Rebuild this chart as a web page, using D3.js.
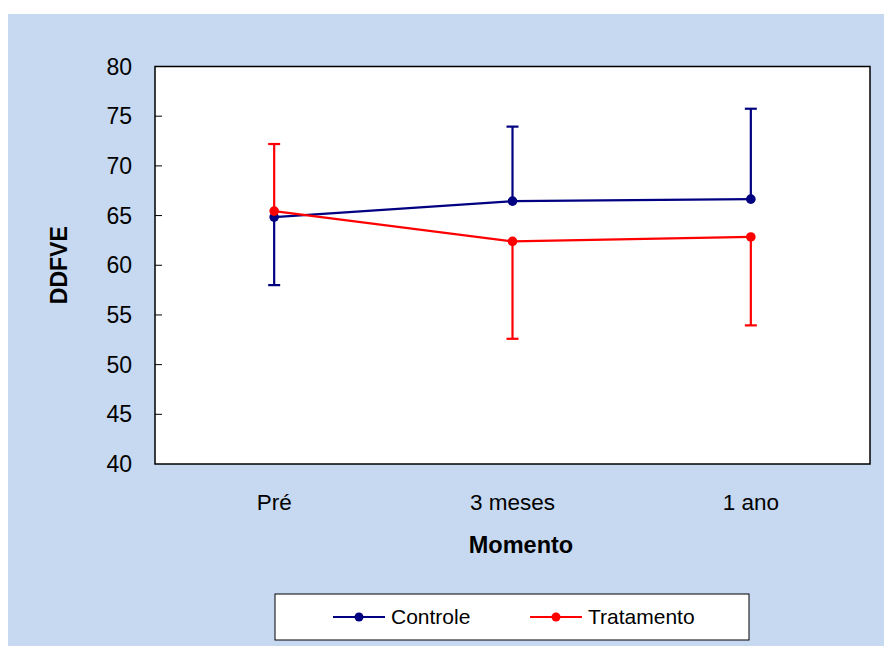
<!DOCTYPE html>
<html>
<head>
<meta charset="utf-8">
<script src="https://cdn.jsdelivr.net/npm/d3@7"></script>
<style>
  body { margin: 0; background: #fff; }
  svg { display: block; font-family: "Liberation Sans", Arial, sans-serif; }
</style>
</head>
<body>
<div id="chart"></div>
<script>
var width = 884;
var height = 646;

var categories = ["Pré", "3 meses", "1 ano"];
var yTicks = [40, 45, 50, 55, 60, 65, 70, 75, 80];
var controleMean = [64.85, 66.45, 66.65];
var controleSd = [6.85, 7.5, 9.1];
var controleDir = [-1, 1, 1];
var tratamentoMean = [65.45, 62.4, 62.85];
var tratamentoSd = [6.75, 9.8, 8.9];
var tratamentoDir = [1, -1, -1];

var series = [
  { name: "Controle", color: "#000080", mean: controleMean, sd: controleSd, dir: controleDir },
  { name: "Tratamento", color: "#ff0000", mean: tratamentoMean, sd: tratamentoSd, dir: tratamentoDir }
];

var plot = { left: 155, top: 66.5, right: 870, bottom: 464 };

const svg = d3.select("#chart")
  .append("svg")
  .attr("width", width)
  .attr("height", height);

// background panel
svg.append("rect")
  .attr("x", 8).attr("y", 14)
  .attr("width", width - 8).attr("height", height - 14)
  .attr("fill", "#c6d9f0");

svg.append("rect")
  .attr("x", plot.left).attr("y", plot.top)
  .attr("width", plot.right - plot.left).attr("height", plot.bottom - plot.top)
  .attr("fill", "#fff")
  .attr("stroke", "#000")
  .attr("stroke-width", 1.5);

var x = d3.scaleBand().domain(categories).range([plot.left, plot.right]);
var y = d3.scaleLinear().domain([40, 80]).range([plot.bottom, plot.top]);

// y axis ticks (inside) and labels
var yAxis = svg.append("g");
yAxis.selectAll("line")
  .data(yTicks.slice(1, -1))
  .join("line")
  .attr("x1", plot.left).attr("x2", plot.left + 7)
  .attr("y1", d => y(d)).attr("y2", d => y(d))
  .attr("stroke", "#000").attr("stroke-width", 1);
yAxis.selectAll("text")
  .data(yTicks)
  .join("text")
  .attr("x", 132)
  .attr("y", d => y(d))
  .attr("dy", "0.35em")
  .attr("text-anchor", "end")
  .attr("font-size", 23)
  .text(d => d);

// x labels
svg.append("g").selectAll("text")
  .data(categories)
  .join("text")
  .attr("x", d => x(d) + x.bandwidth() / 2)
  .attr("y", 510)
  .attr("text-anchor", "middle")
  .attr("font-size", 22.5)
  .text(d => d);

// axis titles
svg.append("text")
  .attr("transform", "translate(67," + (plot.top + plot.bottom) / 2 + ") rotate(-90)")
  .attr("text-anchor", "middle")
  .attr("font-size", 23)
  .attr("font-weight", "bold")
  .text("DDFVE");

svg.append("text")
  .attr("x", 521)
  .attr("y", 553)
  .attr("text-anchor", "middle")
  .attr("font-size", 23.5)
  .attr("font-weight", "bold")
  .text("Momento");

const line = d3.line()
  .x((d, i) => x(categories[i]) + x.bandwidth() / 2)
  .y(d => y(d));

series.forEach(function(s) {
  var g = svg.append("g");
  var pts = s.mean.map((m, i) => ({ cat: categories[i], m: m, end: m + s.dir[i] * s.sd[i] }));

  g.selectAll("line.err")
    .data(pts)
    .join("line")
    .attr("class", "err")
    .attr("x1", d => x(d.cat) + x.bandwidth() / 2)
    .attr("x2", d => x(d.cat) + x.bandwidth() / 2)
    .attr("y1", d => y(d.m)).attr("y2", d => y(d.end))
    .attr("stroke", s.color).attr("stroke-width", 2.2);
  g.selectAll("line.cap")
    .data(pts)
    .join("line")
    .attr("class", "cap")
    .attr("x1", d => x(d.cat) + x.bandwidth() / 2 - 6)
    .attr("x2", d => x(d.cat) + x.bandwidth() / 2 + 6)
    .attr("y1", d => y(d.end)).attr("y2", d => y(d.end))
    .attr("stroke", s.color).attr("stroke-width", 2.2);

  g.append("path")
    .attr("d", line(s.mean))
    .attr("fill", "none")
    .attr("stroke", s.color)
    .attr("stroke-width", 2.2);

  g.selectAll("circle")
    .data(pts)
    .join("circle")
    .attr("cx", d => x(d.cat) + x.bandwidth() / 2)
    .attr("cy", d => y(d.m))
    .attr("r", 4.8)
    .attr("fill", s.color);
});

// legend
var legend = svg.append("g");
legend.append("rect")
  .attr("x", 275).attr("y", 594)
  .attr("width", 474).attr("height", 46)
  .attr("fill", "#fff")
  .attr("stroke", "#000")
  .attr("stroke-width", 1);

var legendX = [333, 530];
series.forEach(function(s, i) {
  var lx = legendX[i];
  legend.append("line")
    .attr("x1", lx).attr("x2", lx + 52)
    .attr("y1", 617).attr("y2", 617)
    .attr("stroke", s.color).attr("stroke-width", 2.2);
  legend.append("circle")
    .attr("cx", lx + 26).attr("cy", 617).attr("r", 4.5)
    .attr("fill", s.color);
  legend.append("text")
    .attr("x", lx + 58).attr("y", 617)
    .attr("dy", "0.35em")
    .attr("font-size", 21)
    .text(s.name);
});
</script>
</body>
</html>
